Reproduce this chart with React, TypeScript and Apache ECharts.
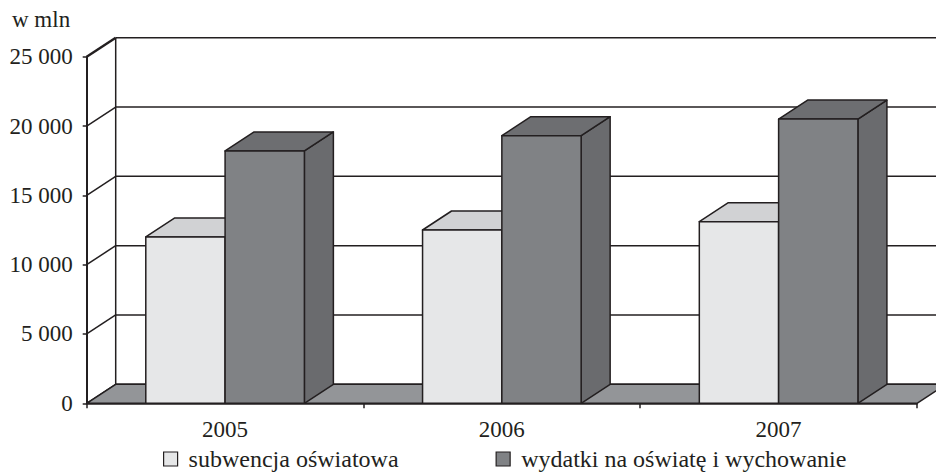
import React, { useEffect, useRef } from "react";
import * as echarts from "echarts";

const years = ["2005", "2006", "2007"];
const subwencja = [12000, 12500, 13100];
const wydatki = [18200, 19300, 20500];
const yTicks = [0, 5000, 10000, 15000, 20000, 25000];
const seriesNames = ["subwencja oświatowa", "wydatki na oświatę i wychowanie"];
const unitLabel = "w mln";

const DX = 29;
const DY = -19;
const LINE = "#231f20";
const FONT = "'Liberation Serif', 'Times New Roman', 'DejaVu Serif', serif";
const BAR_FRAC = 0.2865;

const palettes = [
  { front: "#e6e7e8", top: "#d1d2d4", side: "#bcbec0" },
  { front: "#808285", top: "#6d6e71", side: "#6a6b6e" },
];

function fmt(v: number) {
  return String(v).replace(/\B(?=(\d{3})+(?!\d))/g, " ");
}

export default function App() {
  const ref = useRef<HTMLDivElement>(null);
  useEffect(() => {
    if (!ref.current) return;
    const chart = echarts.init(ref.current, null, { renderer: "svg" });

    const barSeries = (k: number, values: number[]) => ({
      type: "custom",
      name: seriesNames[k],
      z: 3 + k,
      clip: false,
      itemStyle: { color: palettes[k].front, borderColor: LINE, borderWidth: 1 },
      data: values.map((v, i) => [i, v]),
      encode: { x: 0, y: 1 },
      renderItem: (params: any, api: any) => {
        const i = api.value(0);
        const v = api.value(1);
        const top = api.coord([i, v]);
        const bot = api.coord([i, 0]);
        const band = api.size([1, 0])[0];
        const w = band * BAR_FRAC;
        const xl = k === 0 ? top[0] - w : top[0];
        const xr = xl + w;
        const yt = top[1];
        const yb = bot[1];
        const p = palettes[k];
        const st = { stroke: LINE, lineWidth: 1.5, lineJoin: "round" };
        return {
          type: "group",
          children: [
            {
              type: "polygon",
              shape: { points: [[xr, yt], [xr + DX, yt + DY], [xr + DX, yb + DY], [xr, yb]] },
              style: { ...st, fill: p.side },
            },
            {
              type: "polygon",
              shape: { points: [[xl, yt], [xr, yt], [xr + DX, yt + DY], [xl + DX, yt + DY]] },
              style: { ...st, fill: p.top },
            },
            {
              type: "rect",
              shape: { x: xl, y: yt, width: w, height: yb - yt },
              style: { ...st, fill: p.front },
            },
          ],
        };
      },
    });

    const option: any = {
      animation: false,
      backgroundColor: "#ffffff",
      textStyle: { fontFamily: FONT },
      grid: { left: 86.7, top: 56.7, width: 830.3, height: 346.6, containLabel: false },
      xAxis: {
        type: "category",
        data: years,
        boundaryGap: true,
        axisLine: { show: true, lineStyle: { color: LINE, width: 1.5 } },
        axisTick: { show: true, interval: 0, length: 5, lineStyle: { color: LINE, width: 1.5 } },
        axisLabel: { color: LINE, fontFamily: FONT, fontSize: 23, margin: 15 },
        splitLine: { show: false },
      },
      yAxis: {
        type: "value",
        min: 0,
        max: 25000,
        interval: 5000,
        axisLine: { show: true, lineStyle: { color: LINE, width: 2 } },
        axisTick: { show: true, length: 4, lineStyle: { color: LINE, width: 1.5 } },
        axisLabel: { color: LINE, fontFamily: FONT, fontSize: 23, margin: 14, formatter: (v: number) => fmt(v) },
        splitLine: { show: false },
      },
      legend: {
        data: seriesNames,
        left: 163,
        top: 447,
        padding: 0,
        itemWidth: 14,
        itemHeight: 14,
        itemGap: 97,
        icon: "rect",
        itemStyle: { borderColor: LINE, borderWidth: 1.2 },
        textStyle: { color: LINE, fontFamily: FONT, fontSize: 24, lineHeight: 24, padding: [0, 0, 0, 6] },
      },
      graphic: [
        {
          type: "text",
          left: 12,
          top: 8,
          style: { text: unitLabel, fill: LINE, fontFamily: FONT, fontSize: 23 },
        },
      ],
      series: [
        {
          type: "custom",
          name: "walls",
          z: 1,
          clip: false,
          silent: true,
          data: yTicks.map((v) => [0, v]),
          encode: { x: 0, y: 1 },
          renderItem: (params: any, api: any) => {
            const cs = params.coordSys;
            const v = api.value(1);
            const y = api.coord([0, v])[1];
            const x0 = cs.x;
            const x1 = cs.x + cs.width;
            const isTop = v === yTicks[yTicks.length - 1];
            const children: any[] = [
              {
                type: "line",
                shape: { x1: x0, y1: y, x2: x0 + DX, y2: y + DY },
                style: { stroke: LINE, lineWidth: isTop ? 2.5 : 1.5 },
              },
              {
                type: "line",
                shape: { x1: x0 + DX, y1: y + DY, x2: x1 + DX, y2: y + DY },
                style: { stroke: LINE, lineWidth: 1.5 },
              },
            ];
            if (isTop) {
              children.push({
                type: "line",
                shape: { x1: x0 + DX, y1: y + DY, x2: x0 + DX, y2: cs.y + cs.height + DY },
                style: { stroke: LINE, lineWidth: 1.5 },
              });
            }
            return { type: "group", children };
          },
        },
        {
          type: "custom",
          name: "floor",
          z: 2,
          clip: false,
          silent: true,
          data: [[0, 0]],
          encode: { x: 0, y: 1 },
          renderItem: (params: any, api: any) => {
            const cs = params.coordSys;
            const y = api.coord([0, 0])[1];
            const x0 = cs.x;
            const x1 = cs.x + cs.width;
            return {
              type: "polygon",
              shape: { points: [[x0, y], [x1, y], [x1 + DX, y + DY], [x0 + DX, y + DY]] },
              style: { fill: "#939598", stroke: LINE, lineWidth: 1.5, lineJoin: "round" },
            };
          },
        },
        barSeries(0, subwencja),
        barSeries(1, wydatki),
      ],
    };
    chart.setOption(option);
    return () => chart.dispose();
  }, []);
  return (
    <div
      ref={ref}
      style={{ position: "fixed", left: 0, top: 0, width: 936, height: 474, background: "#fff" }}
    />
  );
}
